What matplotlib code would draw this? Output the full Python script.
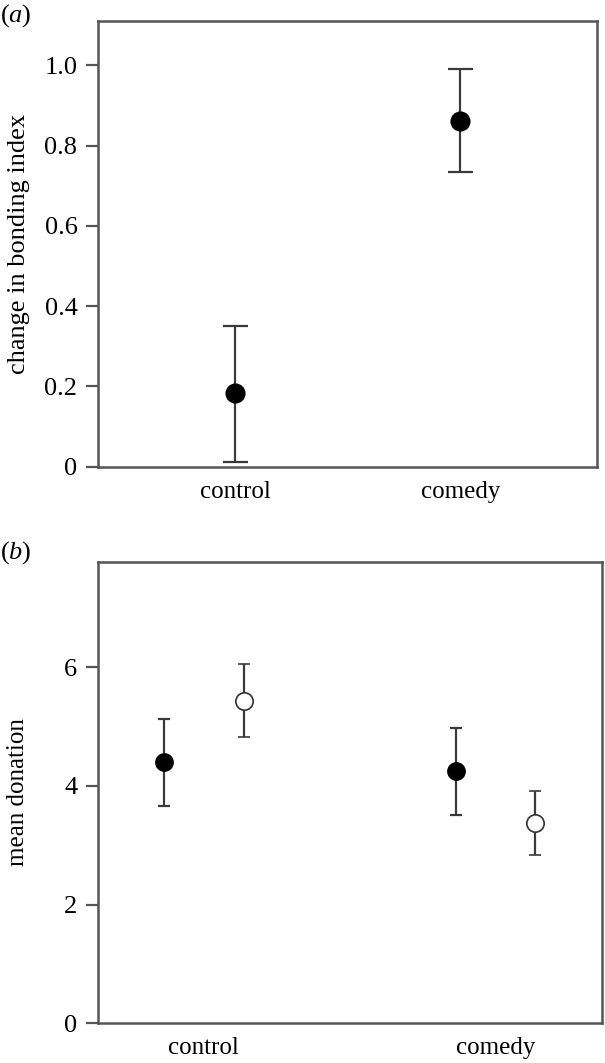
import matplotlib
matplotlib.use("Agg")
import matplotlib.pyplot as plt
import numpy as np

plt.rcParams['font.family'] = ['Liberation Serif', 'DejaVu Serif']
plt.rcParams['mathtext.fontset'] = 'custom'
plt.rcParams['mathtext.rm'] = 'Liberation Serif'
plt.rcParams['mathtext.it'] = 'Liberation Serif:italic'

# Panel (a) data
cats_a = ["control", "comedy"]
mean_a = [0.183, 0.862]
low_a = [0.0125, 0.733]
high_a = [0.351, 0.990]
yticks_a = [0, 0.2, 0.4, 0.6, 0.8, 1.0]
yticklabels_a = ["0", "0.2", "0.4", "0.6", "0.8", "1.0"]

# Panel (b) data
cats_b = ["control", "comedy"]
mean_b_filled = [4.40, 4.245]
low_b_filled = [3.66, 3.51]
high_b_filled = [5.125, 4.98]
mean_b_open = [5.43, 3.38]
low_b_open = [4.82, 2.84]
high_b_open = [6.05, 3.92]
yticks_b = [0, 2, 4, 6]

FS_Y = 19
FS_X = 18
SPINE = '#555555'
ERR = '#3a3a3a'

fig = plt.figure(figsize=(6.05, 10.63), dpi=100)
axa = fig.add_axes([0.1612, 0.5610, 0.8264, 0.4195])
axb = fig.add_axes([0.1612, 0.03735, 0.8333, 0.4342])

# ---- panel a
xa = np.arange(len(cats_a))
ya = np.array(mean_a)
erra = np.vstack([ya - np.array(low_a), np.array(high_a) - ya])
axa.errorbar(xa, ya, yerr=erra, fmt='o', color='black', ecolor=ERR,
             elinewidth=1.6, capsize=9, capthick=1.6, markersize=13.5, zorder=3)
axa.set_xlim(-0.61, 1.608)
axa.set_ylim(0, 1.111)
axa.set_yticks(yticks_a)
axa.set_yticklabels(yticklabels_a)
axa.set_xticks(xa)
axa.set_xticklabels(cats_a)
axa.set_ylabel("change in bonding index", fontsize=FS_Y)
axa.yaxis.set_label_coords(-0.135, 0.5)

# ---- panel b
xb = np.arange(len(cats_b))
off = 0.137
yf = np.array(mean_b_filled)
errf = np.vstack([yf - np.array(low_b_filled), np.array(high_b_filled) - yf])
yo = np.array(mean_b_open)
erro = np.vstack([yo - np.array(low_b_open), np.array(high_b_open) - yo])
axb.errorbar(xb - off, yf, yerr=errf, fmt='o', color='black', ecolor=ERR,
             elinewidth=1.6, capsize=4, capthick=1.6, markersize=12.5, zorder=3)
axb.errorbar(xb + off, yo, yerr=erro, fmt='o', mfc='white', mec='#333333', mew=1.2,
             ecolor=ERR, elinewidth=1.6, capsize=4, capthick=1.6, markersize=12.5, zorder=3)
axb.set_xlim(-0.364, 1.364)
axb.set_ylim(0, 7.78)
axb.set_yticks(yticks_b)
axb.set_xticks(xb)
axb.set_xticklabels(cats_b)
axb.set_ylabel("mean donation", fontsize=FS_X)
axb.yaxis.set_label_coords(-0.135, 0.5)

for ax in (axa, axb):
    for s in ax.spines.values():
        s.set_color(SPINE)
        s.set_linewidth(1.8)
    ax.tick_params(axis='y', length=8.5, width=1.6, color=SPINE, labelsize=FS_Y, pad=6)
    ax.tick_params(axis='x', length=0, labelsize=FS_X, pad=10)

fig.text(0.0, 0.9855, r"($\it{a}$)", fontsize=FS_Y, va='center', ha='left')
fig.text(0.0, 0.4805, r"($\it{b}$)", fontsize=FS_Y, va='center', ha='left')

fig.savefig("out.png", dpi=100)
